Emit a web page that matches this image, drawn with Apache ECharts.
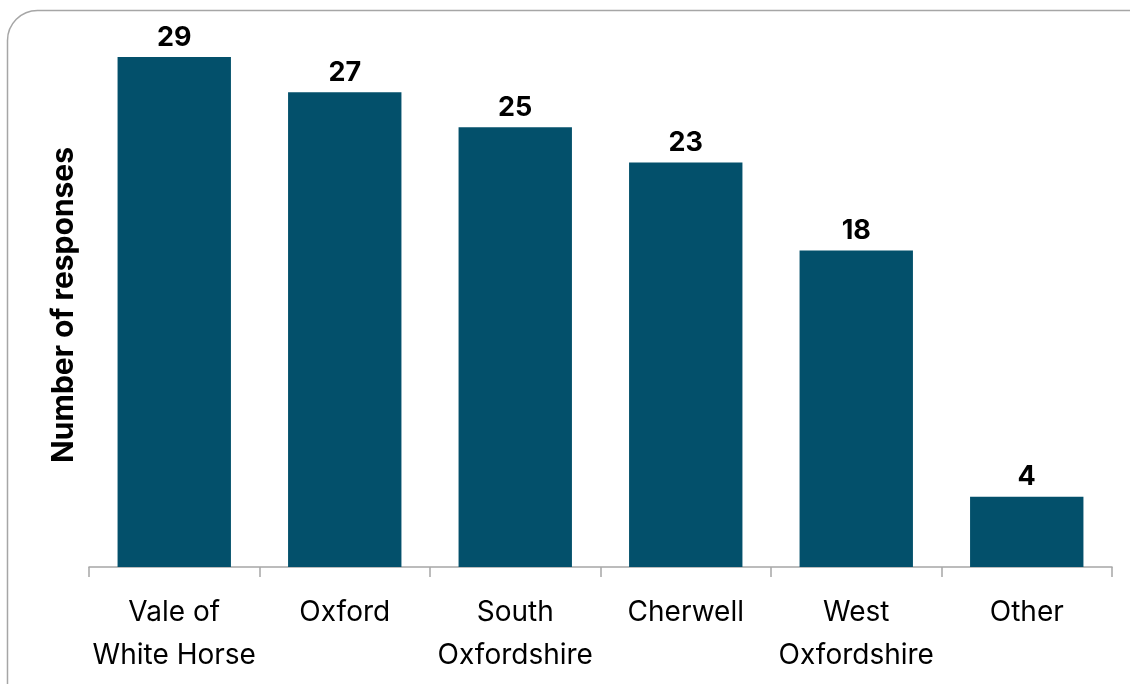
<!DOCTYPE html>
<html>
<head>
<meta charset="utf-8">
<script src="https://cdn.jsdelivr.net/npm/echarts@6/dist/echarts.min.js"></script>
<style>
html,body{margin:0;padding:0;background:#fff;}
#main{width:1130px;height:684px;}
</style>
</head>
<body>
<div id="main"></div>
<script>
const categories = ["Vale of\nWhite Horse", "Oxford", "South\nOxfordshire", "Cherwell", "West\nOxfordshire", "Other"];
const responses = [29, 27, 25, 23, 18, 4];
const yAxisTitle = "Number of responses";

const FONT = "Inter, 'Open Sans', sans-serif";
const chart = echarts.init(document.getElementById('main'));
chart.setOption({
  animation: false,
  backgroundColor: '#ffffff',
  graphic: [{
    type: 'rect',
    shape: { x: 7.5, y: 10.5, width: 1160, height: 710, r: 30 },
    style: { fill: 'none', stroke: '#a6a6a6', lineWidth: 1.5 },
    silent: true,
    z: -1
  }],
  grid: { left: 89, right: 18, top: 57, bottom: 117, containLabel: false },
  xAxis: {
    type: 'category',
    data: categories,
    boundaryGap: true,
    axisLine: { show: true, lineStyle: { color: '#a6a6a6', width: 1.5 } },
    axisTick: { show: true, length: 10, lineStyle: { color: '#a6a6a6', width: 1.5 } },
    axisLabel: {
      color: '#000', fontFamily: FONT, fontSize: 28, lineHeight: 43, margin: 24, interval: 0
    }
  },
  yAxis: {
    type: 'value',
    min: 0,
    max: 29,
    name: yAxisTitle,
    nameLocation: 'middle',
    nameGap: 10,
    nameTextStyle: { color: '#000', fontFamily: FONT, fontSize: 30, fontWeight: 'bold', padding: [0, 0, 0, 14] },
    axisLine: { show: false },
    axisTick: { show: false },
    axisLabel: { show: false },
    splitLine: { show: false }
  },
  series: [{
    type: 'bar',
    data: responses,
    barWidth: '66.5%',
    itemStyle: { color: '#03506b' },
    label: {
      show: true,
      position: 'top',
      distance: 6,
      color: '#000',
      fontFamily: FONT,
      fontSize: 27,
      fontWeight: 'bold'
    }
  }]
});
</script>
</body>
</html>
